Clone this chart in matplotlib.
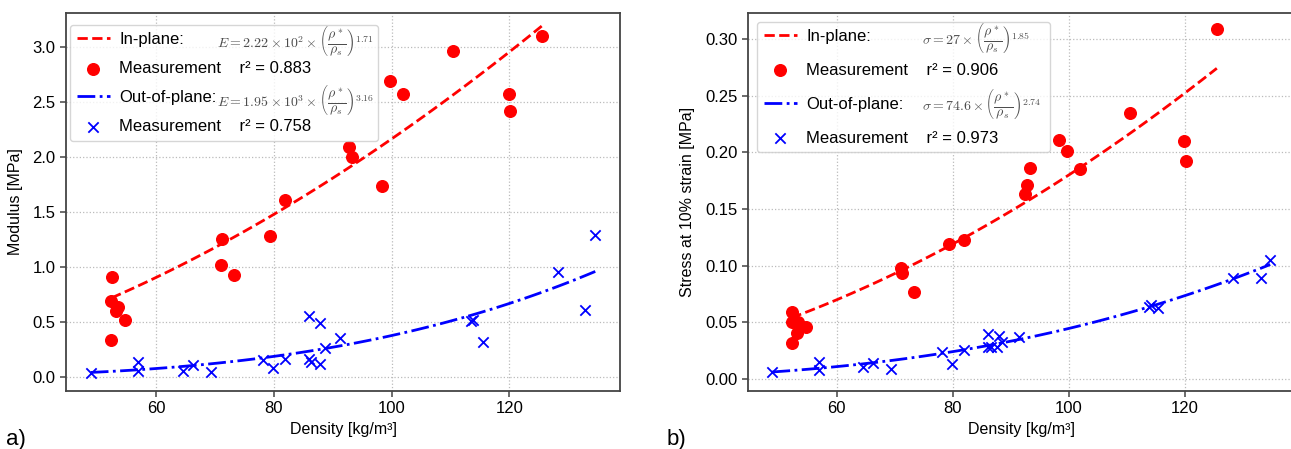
import numpy as np
import matplotlib.pyplot as plt

plt.rcParams['font.family'] = ['Liberation Sans', 'DejaVu Sans']
plt.rcParams['mathtext.fontset'] = 'cm'

# in-plane samples (modulus panel)
dens_ip_a = [52.4, 52.4, 52.5, 53.2, 53.5, 54.7, 71.1, 71.2, 73.3, 79.3,
             81.9, 92.8, 93.3, 98.3, 99.7, 101.9, 110.5, 119.9, 120.2, 125.5]
mod_ip = [0.33, 0.69, 0.91, 0.60, 0.63, 0.52, 1.02, 1.25, 0.93, 1.28,
          1.61, 2.09, 2.00, 1.74, 2.69, 2.57, 2.96, 2.57, 2.42, 3.10]

# out-of-plane samples (modulus panel)
dens_op_a = [48.9, 56.9, 56.9, 64.5, 66.2, 69.3, 78.2, 79.9, 81.9, 86.0, 86.0,
             86.3, 87.8, 87.9, 88.7, 91.3, 113.5, 113.9, 115.5, 128.2, 132.8, 134.6]
mod_op = [0.03, 0.13, 0.05, 0.05, 0.11, 0.04, 0.15, 0.08, 0.16, 0.55, 0.16,
          0.13, 0.12, 0.49, 0.26, 0.35, 0.51, 0.52, 0.32, 0.95, 0.61, 1.29]

# in-plane samples (stress panel)
dens_ip_b = [52.2, 52.2, 52.3, 53.1, 53.3, 54.7, 71.1, 71.2, 73.3, 79.3, 81.9,
             92.5, 92.8, 93.3, 98.3, 99.7, 101.9, 110.5, 119.9, 120.2, 125.5]
str_ip = [0.032, 0.050, 0.059, 0.041, 0.050, 0.046, 0.098, 0.094, 0.077, 0.119, 0.123,
          0.163, 0.171, 0.186, 0.211, 0.201, 0.185, 0.235, 0.210, 0.192, 0.309]

# out-of-plane samples (stress panel)
dens_op_b = [48.9, 56.9, 56.9, 64.5, 66.2, 69.3, 78.2, 79.9, 81.9, 86.0, 86.0,
             86.6, 87.6, 88.0, 88.5, 91.4, 113.8, 114.1, 115.4, 128.3, 133.1, 134.7]
str_op = [0.006, 0.015, 0.008, 0.011, 0.014, 0.009, 0.024, 0.013, 0.026, 0.040, 0.028,
          0.028, 0.028, 0.038, 0.033, 0.037, 0.064, 0.065, 0.063, 0.089, 0.089, 0.105]

# power-law fits from the legends: C * (rho / rho_s) ** n
rho_s = 1500.0
fit_E_ip = (2.22e2, 1.71)
fit_E_op = (1.95e3, 3.16)
fit_s_ip = (27.0, 1.85)
fit_s_op = (74.6, 2.74)

W, H = 1291, 449
fig = plt.figure(figsize=(W / 100, H / 100), dpi=100)
ax1 = fig.add_axes([66 / W, 1 - 391 / H, 554 / W, 378 / H])
ax2 = fig.add_axes([748 / W, 1 - 391 / H, 546 / W, 378 / H])


def power_line(dens, fit):
    d = np.linspace(min(dens), max(dens), 100)
    return d, fit[0] * (d / rho_s) ** fit[1]


def panel(ax, d_ip, y_ip, d_op, y_op, f_ip, f_op, r2_ip, r2_op, eq_ip, eq_op,
          ylabel, ylim, yticks, leg_box, spacing, eq_x, eq_y):
    x, y = power_line(d_ip, f_ip)
    ax.plot(x, y, 'r--', lw=2, label='In-plane:')
    ax.scatter(d_ip, y_ip, s=70, color='red', zorder=3,
               label='Measurement    r² = ' + r2_ip)
    x, y = power_line(d_op, f_op)
    ax.plot(x, y, 'b-.', lw=2, label='Out-of-plane:')
    ax.scatter(d_op, y_op, s=55, marker='x', color='blue', linewidths=1.3, zorder=3,
               label='Measurement    r² = ' + r2_op)

    ax.set_xlim(44.7, 138.8)
    ax.set_ylim(*ylim)
    ax.set_xticks([60, 80, 100, 120])
    ax.set_yticks(yticks)
    ax.grid(True, ls=':', color='#bbbbbb', lw=0.9)
    ax.set_axisbelow(True)
    for sp in ax.spines.values():
        sp.set_color('#444444')
        sp.set_linewidth(1.3)
    ax.tick_params(labelsize=12, color='#444444', length=4, width=1.1)
    ax.set_xlabel('Density [kg/m³]', fontsize=11.5, labelpad=4)
    ax.set_ylabel(ylabel, fontsize=11.5, labelpad=7)

    ax.legend(loc='upper left', bbox_to_anchor=leg_box, mode='expand',
              borderaxespad=0, fontsize=12, handlelength=2.0, handletextpad=0.55,
              labelspacing=spacing, borderpad=0.4)
    ax.text(eq_x, eq_y[0], eq_ip, transform=ax.transAxes, fontsize=10,
            va='center', ha='left', color='0.3', zorder=6)
    ax.text(eq_x, eq_y[1], eq_op, transform=ax.transAxes, fontsize=10,
            va='center', ha='left', color='0.3', zorder=6)


frac = r'\left(\dfrac{\rho^*}{\rho_s}\right)'
panel(ax1, dens_ip_a, mod_ip, dens_op_a, mod_op, fit_E_ip, fit_E_op, '0.883', '0.758',
      r'$E = 2.22\times10^2\times' + frac + '^{1.71}$',
      r'$E = 1.95\times10^3\times' + frac + '^{3.16}$',
      'Modulus [MPa]', (-0.13, 3.31), np.arange(0, 3.01, 0.5),
      (0.007, 0.0, 0.556, 0.968), 0.85, 0.272, (0.926, 0.77))
panel(ax2, dens_ip_b, str_ip, dens_op_b, str_op, fit_s_ip, fit_s_op, '0.906', '0.973',
      r'$\sigma = 27\times' + frac + '^{1.85}$',
      r'$\sigma = 74.6\times' + frac + '^{2.74}$',
      'Stress at 10% strain [MPa]', (-0.0105, 0.323), np.arange(0, 0.301, 0.05),
      (0.0165, 0.0, 0.537, 0.976), 1.14, 0.318, (0.934, 0.759))
ax1.yaxis.set_major_formatter(plt.FormatStrFormatter('%.1f'))
ax2.yaxis.set_major_formatter(plt.FormatStrFormatter('%.2f'))

fig.text(6 / W, 1 - 445 / H, 'a)', fontsize=16, va='baseline')
fig.text(667 / W, 1 - 445 / H, 'b)', fontsize=16, va='baseline')

fig.savefig('out.png', dpi=100)
